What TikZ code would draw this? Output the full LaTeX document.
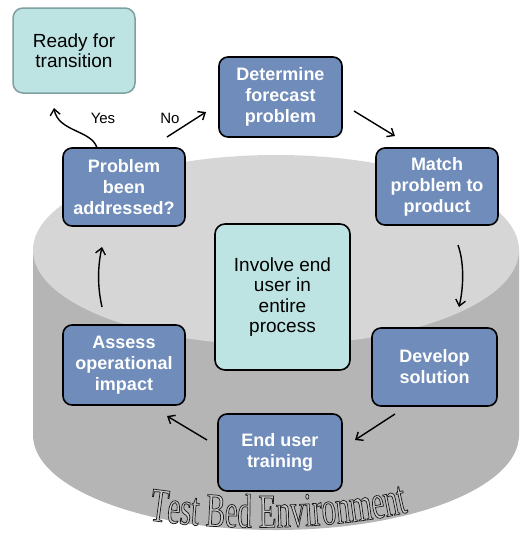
\documentclass[tikz,border=0pt]{standalone}
\usepackage{fontspec}
\setmainfont{Liberation Sans}
\newfontfamily\tbfont[FakeStretch=0.6]{Liberation Serif}
\usetikzlibrary{arrows.meta,decorations.text}
\definecolor{boxblue}{HTML}{6F8CBA}
\definecolor{lightcyan}{HTML}{BEE3E3}
\definecolor{cyltop}{HTML}{D6D6D6}
\definecolor{cylbody}{HTML}{B5B5B5}
\definecolor{readyborder}{HTML}{7FA0A0}
\definecolor{tbgrey}{HTML}{C8C8C8}
\newcommand\outlinechar{\special{pdf:literal direct 0.1 G 2 Tr 0.7 w}}
\tikzset{
  stepbox/.style={rectangle, rounded corners=9pt, draw=black, line width=1.6pt,
    fill=boxblue, text=white, align=center, inner sep=0pt,
    font=\fontsize{18}{21}\selectfont\bfseries},
  cyanbox/.style={rectangle, rounded corners=10pt, fill=lightcyan, text=black,
    align=center, inner sep=0pt, font=\fontsize{19}{20.5}\selectfont},
  arr/.style={-{Straight Barb[length=6pt,width=10pt]}, line width=1.4pt, black},
  lbl/.style={font=\fontsize{15}{15}\selectfont, inner sep=0pt}
}
\begin{document}
\begin{tikzpicture}[x=1pt,y=-1pt]
\useasboundingbox[fill=white] (0,0) rectangle (522,536);
% cylinder
\fill[cylbody] (33,250) -- (33,435) arc[start angle=180, end angle=0, x radius=243, y radius=95] -- (519,250) -- cycle;
\fill[cyltop] (276,250) ellipse [x radius=243, y radius=95];
% nodes
\node[cyanbox, draw=readyborder, line width=1.5pt, minimum width=122pt, minimum height=85pt] (ready) at (74,50.5) {Ready for\\transition};
\node[stepbox, minimum width=123pt, minimum height=80pt] (det) at (280.5,97) {Determine\\forecast\\problem};
\node[stepbox, minimum width=122pt, minimum height=77pt] (match) at (437,186.5) {Match\\problem to\\product};
\node[stepbox, minimum width=122pt, minimum height=78pt] (prob) at (124,187) {Problem\\been\\addressed?};
\node[cyanbox, draw=black, line width=1.6pt, minimum width=135pt, minimum height=146pt] (involve) at (282.5,297) {Involve end\\user in\\entire\\process};
\node[stepbox, minimum width=122pt, minimum height=80pt] (assess) at (124,365) {Assess\\operational\\impact};
\node[stepbox, minimum width=125pt, minimum height=78pt] (develop) at (434.5,367) {Develop\\solution};
\node[stepbox, minimum width=124pt, minimum height=77pt] (enduser) at (280,452.5) {End user\\training};
% connector end points
\coordinate (yesS) at (97,148);
\coordinate (yesE) at (54,108);
\coordinate (noS) at (167,137);
\coordinate (noE) at (206,112);
\coordinate (dmS) at (354,111);
\coordinate (dmE) at (395,136);
\coordinate (mdS) at (458,245);
\coordinate (mdE) at (459,307);
\coordinate (deS) at (395,414);
\coordinate (deE) at (355,440);
\coordinate (eaS) at (207,440);
\coordinate (eaE) at (167,416);
\coordinate (apS) at (102,307);
\coordinate (apE) at (102,247);
% connectors
\draw[arr] (yesS) .. controls (92,130) and (58,132) .. (yesE);
\draw[arr] (noS) -- (noE);
\draw[arr] (dmS) -- (dmE);
\draw[arr] (mdS) .. controls (465,265) and (463,290) .. (mdE);
\draw[arr] (deS) -- (deE);
\draw[arr] (eaS) -- (eaE);
\draw[arr] (apS) .. controls (97,285) and (98,265) .. (apE);
\node[lbl] (yes) at (103,118) {Yes};
\node[lbl] (no) at (170,118) {No};
% title on the cylinder
\path[decorate, decoration={text along path, text align=center,
  text={|\tbfont\fontsize{48}{48}\selectfont\color{tbgrey}\outlinechar|Test Bed Environment}}]
  (148,520) .. controls (220,531) and (330,531) .. (409,512);
\end{tikzpicture}
\end{document}
